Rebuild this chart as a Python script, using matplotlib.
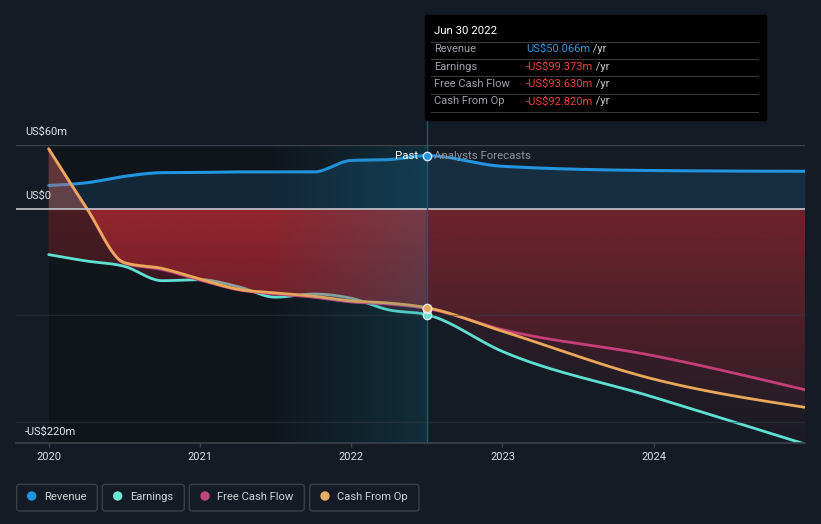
import numpy as np
import matplotlib
matplotlib.use("Agg")
import matplotlib.pyplot as plt
from matplotlib.path import Path
from matplotlib.patches import PathPatch, FancyBboxPatch, Rectangle, Circle
from matplotlib.colors import to_rgb
from matplotlib.transforms import Affine2D
from matplotlib.lines import Line2D

plt.rcParams['font.family'] = ['Roboto', 'DejaVu Sans']

# ---------------- data (US$m) ----------------
past_t = [2020.0, 2020.25, 2020.5, 2020.75, 2021.0, 2021.25, 2021.5, 2021.75, 2022.0, 2022.25, 2022.5]
revenue_past = [22, 24.5, 30.5, 34, 34.2, 34.7, 34.7, 34.6, 45.5, 46.3, 50.066]
earnings_past = [-43, -49, -54, -67.5, -66.5, -73, -83, -80, -84, -95, -99.373]
fcf_past = [56, 0.5, -51, -57, -67, -76, -80, -83, -87.5, -89.5, -93.630]
cfo_past = [56.5, 1, -50.5, -56, -66, -75.5, -79, -82, -86.5, -88.5, -92.820]

fc_t = [2022.5, 2023.0, 2024.0, 2025.0]
revenue_fc = [50.066, 40, 36, 35.3]
earnings_fc = [-99.373, -134, -177, -221]
fcf_fc = [-93.630, -113.5, -138, -170]
cfo_fc = [-92.820, -115, -160, -186.5]

year_ticks = [2020, 2021, 2022, 2023, 2024]
year_labels = ["2020", "2021", "2022", "2023", "2024"]

series_names = ["Revenue", "Earnings", "Free Cash Flow", "Cash From Op"]
series_colors = ["#2394df", "#5fe0d1", "#c4407e", "#eaa85a"]
tooltip_values = ["US$50.066m", "-US$99.373m", "-US$93.630m", "-US$92.820m"]
now_t = 2022.5

# ---------------- styling ----------------
BG = "#151b25"
PAST_BG = "#10141b"
W, H = 821, 524
XMIN, XMAX = 2019.784, 2025.0
YMIN, YMAX = -220, 60

fig = plt.figure(figsize=(W / 100, H / 100), dpi=100, facecolor=BG)
ax = fig.add_axes([16 / W, 1 - 443 / H, (805 - 16) / W, (443 - 145) / H])
ax.set_facecolor(BG)
PX = Affine2D().scale(1 / 100.0) + fig.dpi_scale_trans


def fx(x):
    return x / W


def fy(y):
    return 1 - y / H


def mono(xs, ys, n=40):
    """Monotone cubic rendering of a series (like d3 curveMonotoneX)."""
    xs = np.asarray(xs, float)
    ys = np.asarray(ys, float)
    h = np.diff(xs)
    s = np.diff(ys) / h
    N = len(xs)
    m = np.zeros(N)
    for i in range(1, N - 1):
        p = (s[i - 1] * h[i] + s[i] * h[i - 1]) / (h[i - 1] + h[i])
        m[i] = (np.sign(s[i - 1]) + np.sign(s[i])) * min(abs(s[i - 1]), abs(s[i]), 0.5 * abs(p))
    if N > 2:
        m[0] = (3 * s[0] - m[1]) / 2
        m[-1] = (3 * s[-1] - m[-2]) / 2
    else:
        m[:] = s[0]
    ox, oy = [], []
    for i in range(N - 1):
        t = np.linspace(0, 1, n, endpoint=(i == N - 2))
        h00 = 2 * t**3 - 3 * t**2 + 1
        h10 = t**3 - 2 * t**2 + t
        h01 = -2 * t**3 + 3 * t**2
        h11 = t**3 - t**2
        oy.append(h00 * ys[i] + h10 * h[i] * m[i] + h01 * ys[i + 1] + h11 * h[i] * m[i + 1])
        ox.append(xs[i] + t * h[i])
    return np.concatenate(ox), np.concatenate(oy)


def full_curve(pt, pv, ft, fv):
    return mono(list(pt) + list(ft[1:]), list(pv) + list(fv[1:]))


# background zones
ax.axvspan(2020.0, now_t, color=PAST_BG, lw=0, zorder=0.5)

# gradient image for negative fills
Xg = np.linspace(XMIN, XMAX, 700)
Yg = np.linspace(YMIN, YMAX, 320)
XX, YY = np.meshgrid(Xg, Yg)
neg_rgb = np.array(to_rgb("#e8303a"))
pos_rgb = np.array(to_rgb("#d86a62"))
A = np.where(YY < 0,
             np.where(XX <= now_t, np.clip(0.27 + 0.10 * YY / 100, 0.1, 1),
                      np.clip(0.17 + 0.14 * YY / 220, 0.02, 1)),
             0.23)
RGBA = np.zeros(XX.shape + (4,))
RGBA[..., :3] = np.where((YY < 0)[..., None], neg_rgb, pos_rgb)
RGBA[..., 3] = A


def grad_fill(x, y, z):
    verts = np.concatenate([np.column_stack([x, y]),
                            np.column_stack([x[::-1], np.zeros_like(x)])])
    patch = PathPatch(Path(verts), transform=ax.transData, fc="none", ec="none")
    ax.add_patch(patch)
    im = ax.imshow(RGBA, extent=[XMIN, XMAX, YMIN, YMAX], origin="lower",
                   aspect="auto", zorder=z, interpolation="bilinear")
    im.set_clip_path(patch)


# Revenue
rx, ry = full_curve(past_t, revenue_past, fc_t, revenue_fc)
ax.fill_between(rx, 0, ry, color=series_colors[0], alpha=0.15, lw=0, zorder=2)
ax.plot(rx, ry, color=series_colors[0], lw=2.2, zorder=3, solid_capstyle="round")

# Earnings, FCF, CFO
z = 4
for pv, fv, col in [(earnings_past, earnings_fc, series_colors[1]),
                    (fcf_past, fcf_fc, series_colors[2]),
                    (cfo_past, cfo_fc, series_colors[3])]:
    x, y = full_curve(past_t, pv, fc_t, fv)
    grad_fill(x, y, z)
    ax.plot(x, y, color=col, lw=2.0, zorder=z + 1, solid_capstyle="round")
    z += 2

# past-year highlight
hl = np.zeros((2, 200, 4))
hl[..., :3] = to_rgb("#1583a0")
hl[..., 3] = np.linspace(0.02, 0.24, 200)[None, :]
ax.imshow(hl, extent=[now_t - 1, now_t, YMIN, YMAX], origin="lower", aspect="auto",
          zorder=10.5, interpolation="bilinear")

# grid lines
ax.axhline(60, color="#3c434d", lw=1.0, zorder=12)
for gv in [-100, -200]:
    ax.axhline(gv, color="#343a44", alpha=0.5, lw=1.0, zorder=12)
ax.axhline(0, color="#c4c7cc", lw=1.2, zorder=12)

# now line
ax.plot([now_t, now_t], [YMIN, YMAX + 25 / 1.064], color="#1d5a6c", lw=1.0,
        zorder=13, clip_on=False)

# markers
ax.scatter([now_t], [revenue_fc[0]], s=36, color=series_colors[0], edgecolor="#d8e6f2", lw=1, zorder=14)
ax.scatter([now_t], [earnings_fc[0]], s=36, color=series_colors[1], edgecolor="#e0e6ea", lw=1, zorder=14)
ax.scatter([now_t], [fcf_fc[0]], s=36, color=series_colors[2], edgecolor="#e0e6ea", lw=1, zorder=14)
ax.scatter([now_t], [cfo_fc[0]], s=36, color=series_colors[3], edgecolor="#e0e6ea", lw=1, zorder=15)

ax.set_xlim(XMIN, XMAX)
ax.set_ylim(YMIN, YMAX)
for sp in ["top", "right", "left"]:
    ax.spines[sp].set_visible(False)
ax.spines["bottom"].set_color("#3c434d")
ax.spines["bottom"].set_linewidth(1.2)
ax.spines["bottom"].set_zorder(16)
ax.set_yticks([])
ax.set_xticks(year_ticks)
ax.set_xticklabels(year_labels)
ax.tick_params(axis="x", length=3, width=1, color="#3c434d", pad=3.5,
               labelsize=8, labelcolor="#dde0e4")

# y labels
for txt, ypx in [("US$60m", 132), ("US$0", 196), ("-US$220m", 432)]:
    fig.text(fx(25), fy(ypx), txt, ha="left", va="center", color="#e4e6ea", fontsize=7.9)

fig.text(fx(418), fy(156), "Past", ha="right", va="center", color="#ffffff", fontsize=8.2)
fig.text(fx(434), fy(156), "Analysts Forecasts", ha="left", va="center", color="#8e949c", fontsize=8.2)

# tooltip
fig.patches.append(Rectangle((fx(425), fy(120)), fx(766) - fx(425), fy(15) - fy(120),
                             transform=fig.transFigure, color="#000000", zorder=20))
fig.text(fx(434), fy(31), "Jun 30 2022", ha="left", va="center", color="#ffffff", fontsize=8.2, zorder=21)
for yl in [41.5, 58.5, 76, 93.5, 111.5]:
    fig.add_artist(Line2D([fx(431), fx(758)], [fy(yl), fy(yl)], transform=fig.transFigure,
                          color="#3a3a3c", lw=0.8, zorder=21))
row_y = [49.3, 66.5, 84.3, 101.5]
for i, (nm, val) in enumerate(zip(series_names, tooltip_values)):
    fig.text(fx(434), fy(row_y[i]), nm, ha="left", va="center", color="#9ea2a8", fontsize=8, zorder=21)
    vc = "#2f9be5" if i == 0 else "#ee3f3c"
    t = fig.text(fx(526), fy(row_y[i]), val, ha="left", va="center", color=vc, fontsize=8, zorder=21)
    fig.add_artist(matplotlib.text.Annotation(" /yr", xy=(1, 0.5), xycoords=t, va="center", ha="left",
                                              color="#c8ccd0", fontsize=8, zorder=21))

# legend
boxes = [(16.7, 97.3), (102.3, 184.3), (189.3, 304.3), (309.7, 419)]
dots = [31.7, 117.7, 205, 325]
texts_x = [44.3, 130, 217, 337]
legend_dot_colors = ["#2394df", "#6ee6d6", "#c2437f", "#e8ac62"]
for (x0, x1), dx, tx, nm, c in zip(boxes, dots, texts_x, series_names, legend_dot_colors):
    fig.patches.append(FancyBboxPatch((x0, H - 511), x1 - x0, 511 - 484.3,
                                      boxstyle="round,pad=0,rounding_size=3",
                                      transform=PX, fc="none", ec="#3a404a", lw=1.0))
    fig.patches.append(Circle((dx, H - 496), 4, transform=PX, color=c))
    fig.text(fx(tx), fy(496.5), nm, ha="left", va="center", color="#d0d4d8", fontsize=8.1)

fig.savefig("out.png", dpi=100, facecolor=BG)
